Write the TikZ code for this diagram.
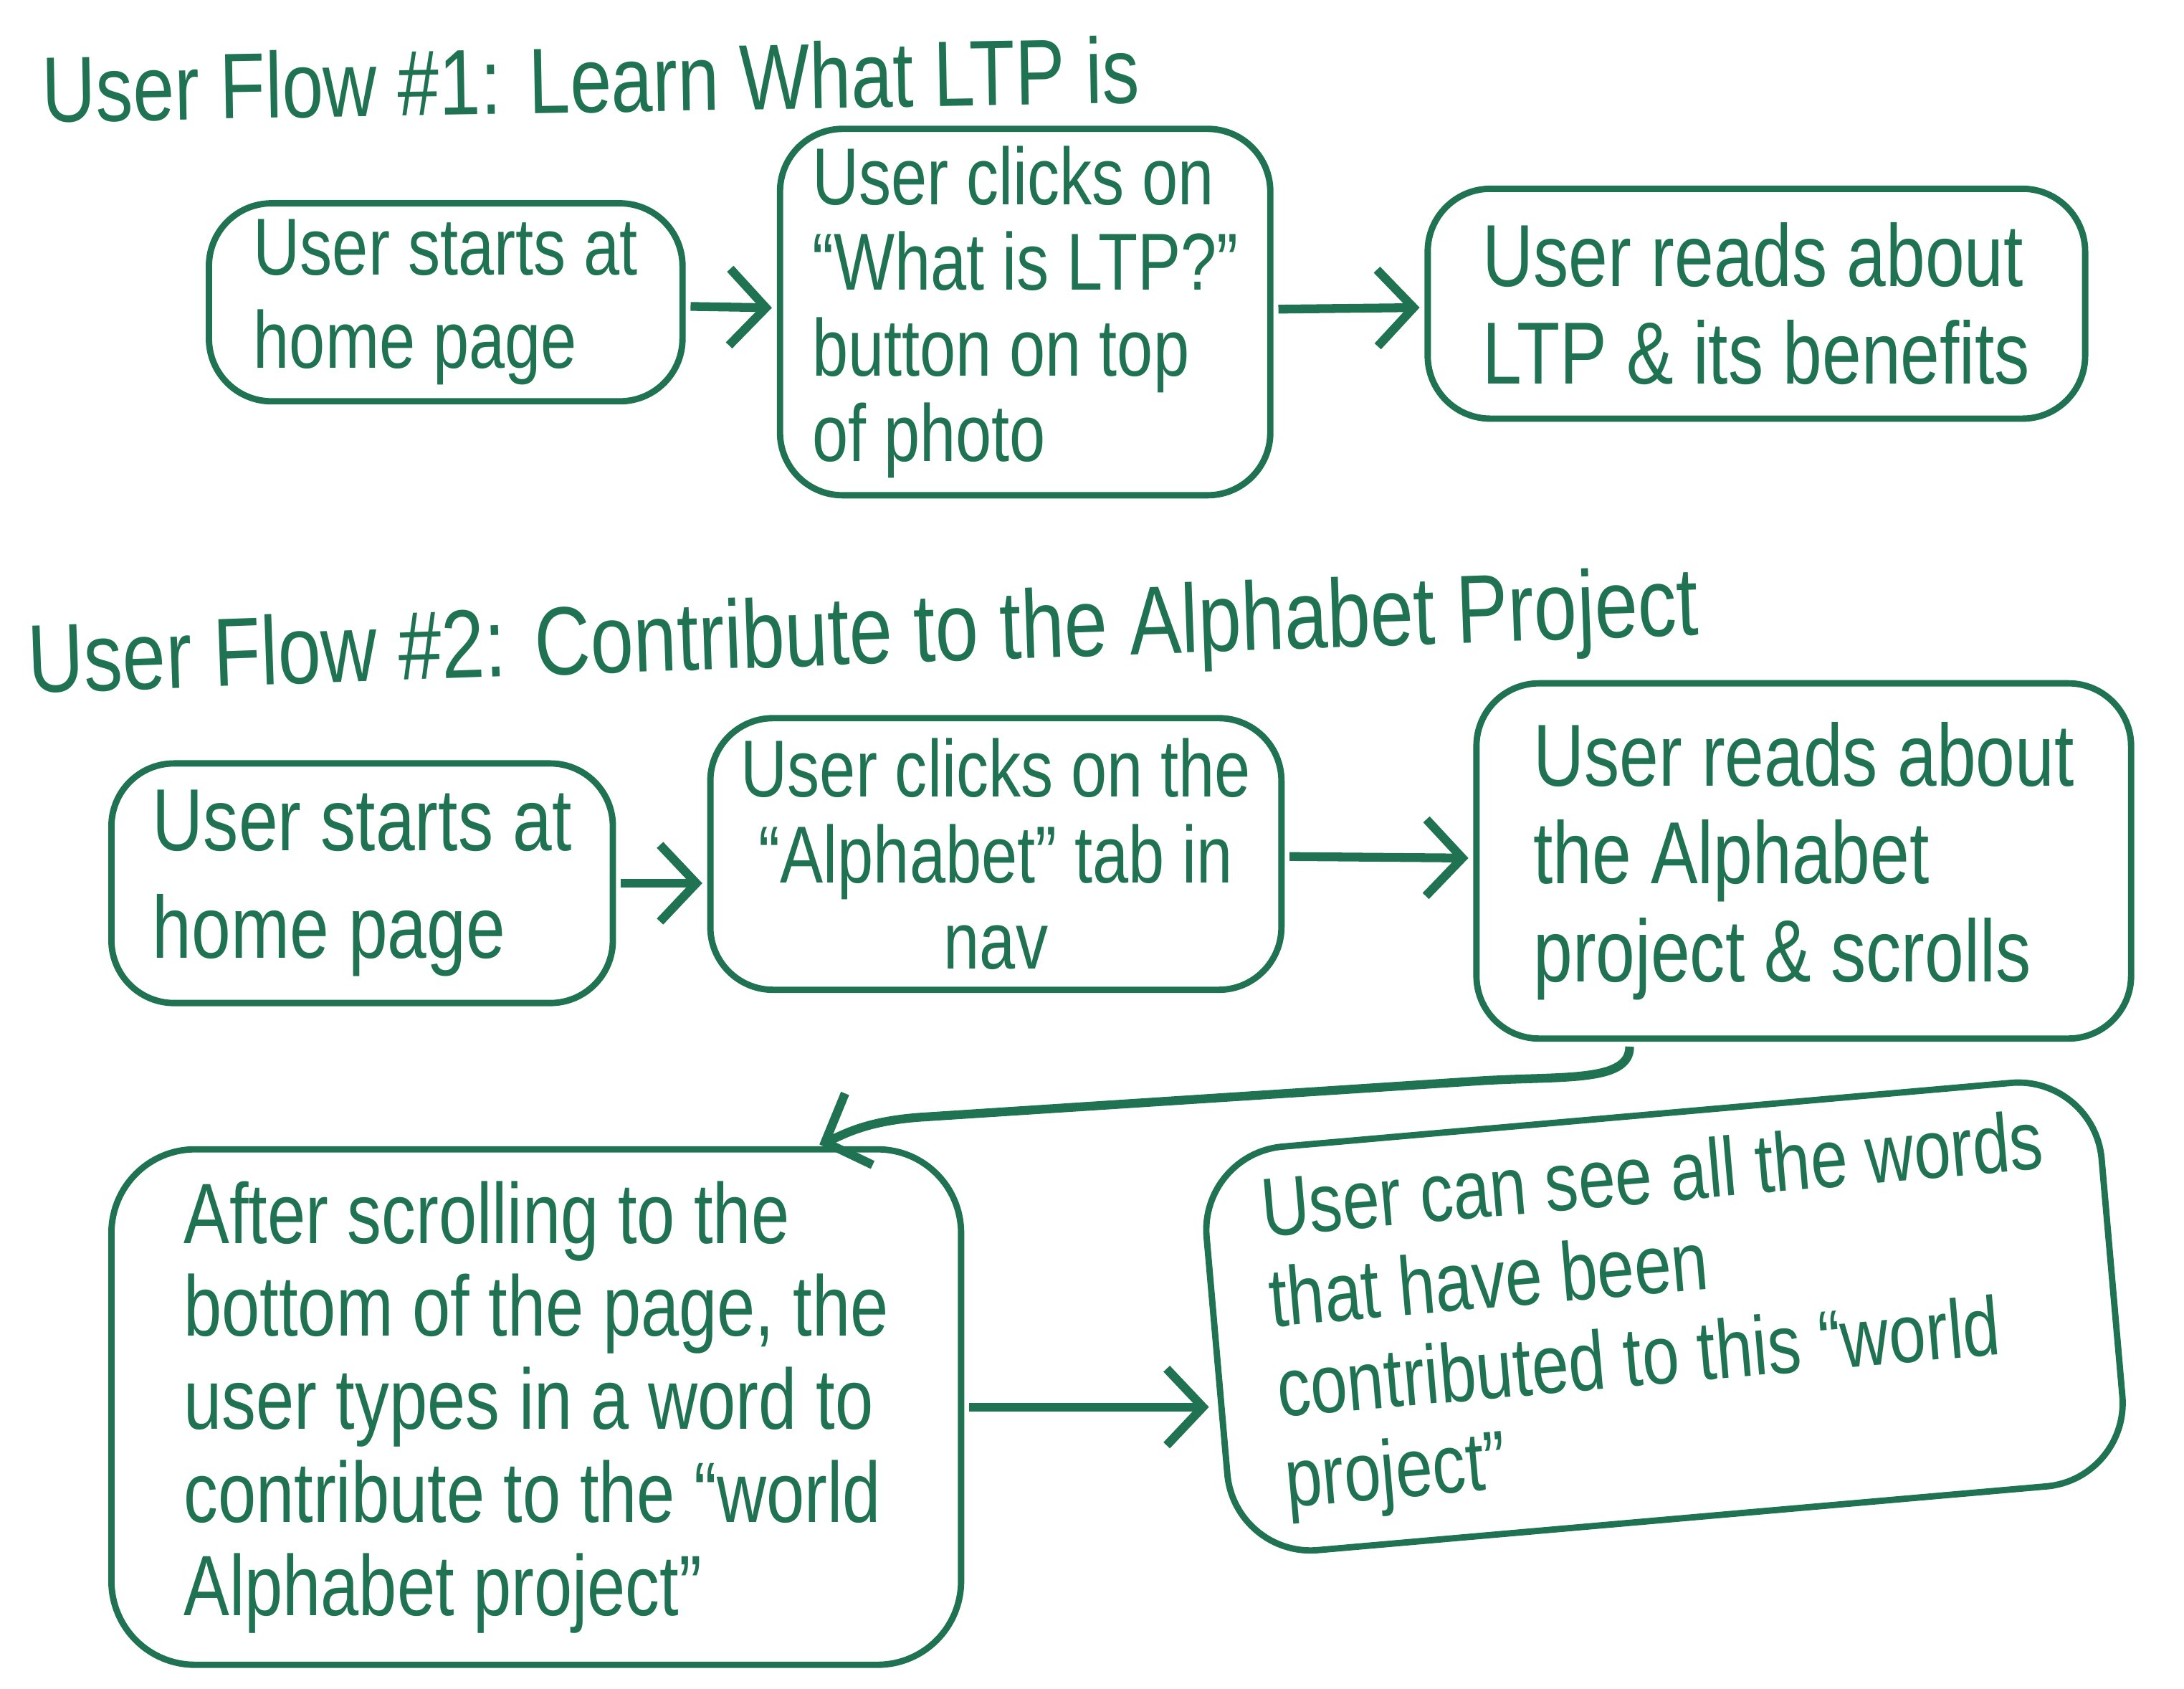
\documentclass[tikz,border=0pt]{standalone}
\usepackage{fontspec}
\setmainfont[FakeStretch=0.8]{Liberation Sans}
\usepackage{xcolor}
\usepackage{tikz}
\usetikzlibrary{calc,arrows.meta}
\definecolor{marker}{RGB}{31,115,82}

\begin{document}
\begin{tikzpicture}[>=Stealth,
    title/.style={anchor=west, text=marker, font=\fontsize{19}{22}\selectfont},
    card/.style={rectangle, draw=marker, line width=1.3pt, text=marker, align=left, rounded corners=0.45cm, font=\fontsize{16.5}{17.5}\selectfont},
    big/.style={font=\fontsize{18}{20}\selectfont},
    arrow/.style={-{Straight Barb[length=2.6mm,width=5.5mm]}, draw=marker, line width=1.8pt, shorten >=1pt, shorten <=1pt}]

    \useasboundingbox (0,0) rectangle (15.68,-12.12);

    % flow 1
    \node [title, rotate=1] at (0.18,-0.64) (t1) {User Flow \#1: Learn What LTP is};
    \node [card, font=\fontsize{16.5}{19}\selectfont, minimum width=3.40cm, minimum height=1.37cm] at (3.20,-2.17) (a1) {User starts at\\home page};
    \node [card, minimum width=3.52cm, minimum height=2.63cm] at (7.36,-2.24) (a2) {User clicks on\\“What is LTP?”\\button on top\\of photo};
    \node [card, big, minimum width=4.72cm, minimum height=1.65cm] at (12.61,-2.18) (a3) {User reads about\\LTP \& its benefits};

    \draw [arrow] (a1) -- (a2);
    \draw [arrow] (a2) -- (a3);

    % flow 2
    \node [title, rotate=2, font=\fontsize{19.8}{22}\selectfont] at (0.08,-4.80) (t2) {User Flow \#2: Contribute to the Alphabet Project};
    \node [card, font=\fontsize{18}{22}\selectfont, minimum width=3.60cm, minimum height=1.72cm] at (2.60,-6.34) (b1) {User starts at\\home page};
    \node [card, minimum width=4.10cm, minimum height=1.95cm, align=center] at (7.15,-6.13) (b2) {User clicks on the\\“Alphabet” tab in\\nav};
    \node [card, big, minimum width=4.70cm, minimum height=2.55cm] at (12.95,-6.18) (b3) {User reads about\\the Alphabet\\project \& scrolls};
    \node [card, font=\fontsize{17.5}{19}\selectfont, minimum width=6.10cm, minimum height=3.70cm, rounded corners=0.6cm] at (3.85,-10.10) (b4) {After scrolling to the\\bottom of the page, the\\user types in a word to\\contribute to the “world\\Alphabet project”};
    \node [card, font=\fontsize{17}{18.5}\selectfont, minimum width=6.45cm, minimum height=2.85cm, inner sep=0.2cm, rounded corners=0.6cm, rotate=5] at (11.95,-9.45) (b5) {User can see all the words\\that have been\\contributed to this “world\\project”};

    \draw [arrow] (b1.east) -- (b1.east -| b2.west);
    \draw [arrow] (b2) -- (b3);
    \draw [arrow] ([xshift=-1.25cm]b3.south) .. controls +(0,-0.3) and (11.2,-7.72) .. (10.6,-7.76) -- (6.6,-8.02) .. controls (6.2,-8.05) and (6.05,-8.15) .. ([xshift=2.0cm]b4.north);
    \draw [arrow] (b4.east) -- (b4.east -| b5.west);
\end{tikzpicture}
\end{document}
